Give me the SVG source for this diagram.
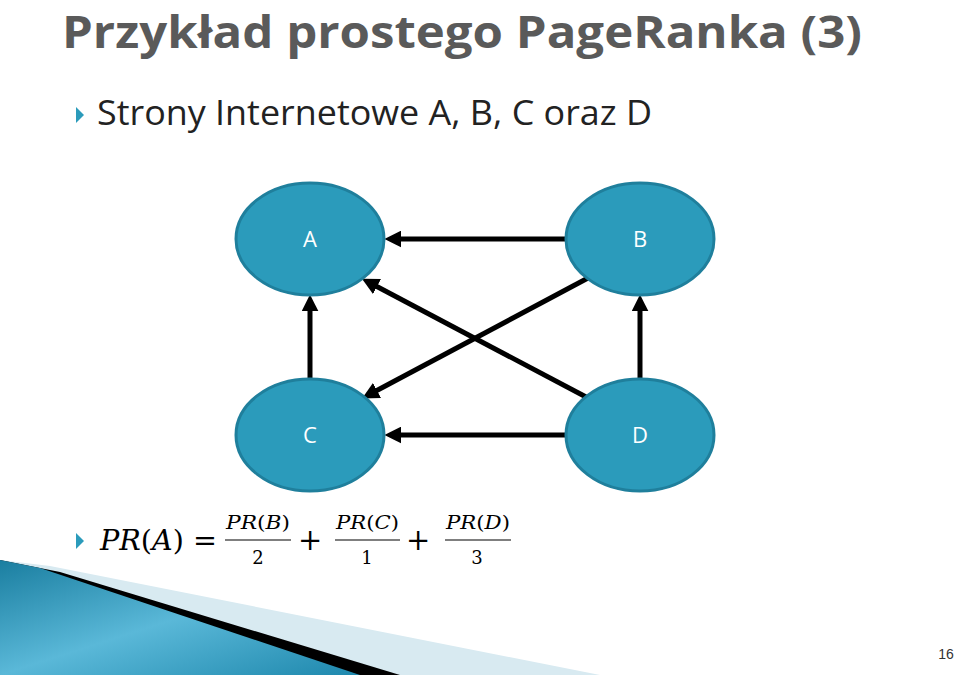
<svg xmlns="http://www.w3.org/2000/svg" width="960" height="675" viewBox="0 0 960 675">
<defs>
<style>
.node ellipse{fill:#2b9bbb;stroke:#1f7f9c;stroke-width:3}
.node text{font-family:"Open Sans","Liberation Sans",sans-serif;font-size:22px;fill:#fff;text-anchor:middle}
.edge{stroke:#000;stroke-width:5;fill:none;marker-end:url(#ah)}
.m{font-family:"DejaVu Serif","Liberation Serif",serif;font-style:italic;fill:#000}
.n{font-family:"DejaVu Serif","Liberation Serif",serif;fill:#000}
</style>
<marker id="ah" viewBox="0 0 10 10" refX="2" refY="5" markerWidth="3.4" markerHeight="3.4" orient="auto" markerUnits="strokeWidth"><path d="M0,0L10,5L0,10z" fill="#000"/></marker>
<linearGradient id="sw" x1="0" y1="0" x2="1" y2="1"><stop offset="0" stop-color="#1a7ea0"/><stop offset="0.5" stop-color="#5ab8d8"/><stop offset="1" stop-color="#1e88ad"/></linearGradient>
</defs>
<rect width="960" height="675" fill="#fff"/>
<text x="62" y="48" textLength="800" lengthAdjust="spacingAndGlyphs" font-family="'Open Sans','Liberation Sans',sans-serif" font-weight="bold" font-size="44" fill="#5a5a5a">Przykład prostego PageRanka (3)</text>
<path d="M76,107 L84,115 L76,123z" fill="#2b9bbb"/>
<text x="97" y="125" textLength="555" lengthAdjust="spacingAndGlyphs" font-family="'Open Sans','Liberation Sans',sans-serif" font-size="35" fill="#222">Strony Internetowe A, B, C oraz D</text>
<g id="connectors">
<line class="edge" x1="566" y1="239" x2="398" y2="239"/>
<line class="edge" x1="310" y1="381" x2="310" y2="308"/>
<line class="edge" x1="640" y1="380" x2="640" y2="308"/>
<line class="edge" x1="588" y1="278" x2="374" y2="392"/>
<line class="edge" x1="588" y1="398" x2="374" y2="285"/>
<line class="edge" x1="566" y1="435" x2="398" y2="435"/>
</g>
<g id="A" class="node"><ellipse cx="310" cy="239" rx="74" ry="56"/><text x="310" y="247">A</text></g>
<g id="B" class="node"><ellipse cx="640" cy="239" rx="74" ry="56"/><text x="640" y="247">B</text></g>
<g id="C" class="node"><ellipse cx="310" cy="435" rx="74" ry="56"/><text x="310" y="443">C</text></g>
<g id="D" class="node"><ellipse cx="640" cy="435" rx="74" ry="56"/><text x="640" y="443">D</text></g>
<path d="M76,533 L84,541 L76,549z" fill="#2b9bbb"/>
<text x="100" y="550" font-size="27" textLength="117" lengthAdjust="spacingAndGlyphs"><tspan class="m">PR</tspan><tspan class="n">(</tspan><tspan class="m">A</tspan><tspan class="n">) =</tspan></text>
<g font-size="18">
<text x="226" y="529" textLength="64" lengthAdjust="spacingAndGlyphs"><tspan class="m">PR</tspan><tspan class="n">(</tspan><tspan class="m">B</tspan><tspan class="n">)</tspan></text>
<line x1="225" y1="540" x2="291" y2="540" stroke="#000" stroke-width="1.2"/>
<text class="n" x="258" y="564" text-anchor="middle">2</text>
<text class="n" x="298" y="550" font-size="29">+</text>
<text x="336" y="529" textLength="63" lengthAdjust="spacingAndGlyphs"><tspan class="m">PR</tspan><tspan class="n">(</tspan><tspan class="m">C</tspan><tspan class="n">)</tspan></text>
<line x1="335" y1="540" x2="400" y2="540" stroke="#000" stroke-width="1.2"/>
<text class="n" x="367" y="564" text-anchor="middle">1</text>
<text class="n" x="406" y="550" font-size="29">+</text>
<text x="446" y="529" textLength="64" lengthAdjust="spacingAndGlyphs"><tspan class="m">PR</tspan><tspan class="n">(</tspan><tspan class="m">D</tspan><tspan class="n">)</tspan></text>
<line x1="445" y1="540" x2="511" y2="540" stroke="#000" stroke-width="1.2"/>
<text class="n" x="477" y="564" text-anchor="middle">3</text>
</g>
<path d="M0,560 L50,566 L600,675 L0,675z" fill="#d8eaf1"/>
<path d="M0,560 L60,572 L400,675 L0,675z" fill="#000"/>
<path d="M0,560 L40,568 L360,675 L0,675z" fill="url(#sw)"/>
<text x="946" y="659" font-family="'Liberation Sans',sans-serif" font-size="14" fill="#333" text-anchor="middle">16</text>
</svg>
